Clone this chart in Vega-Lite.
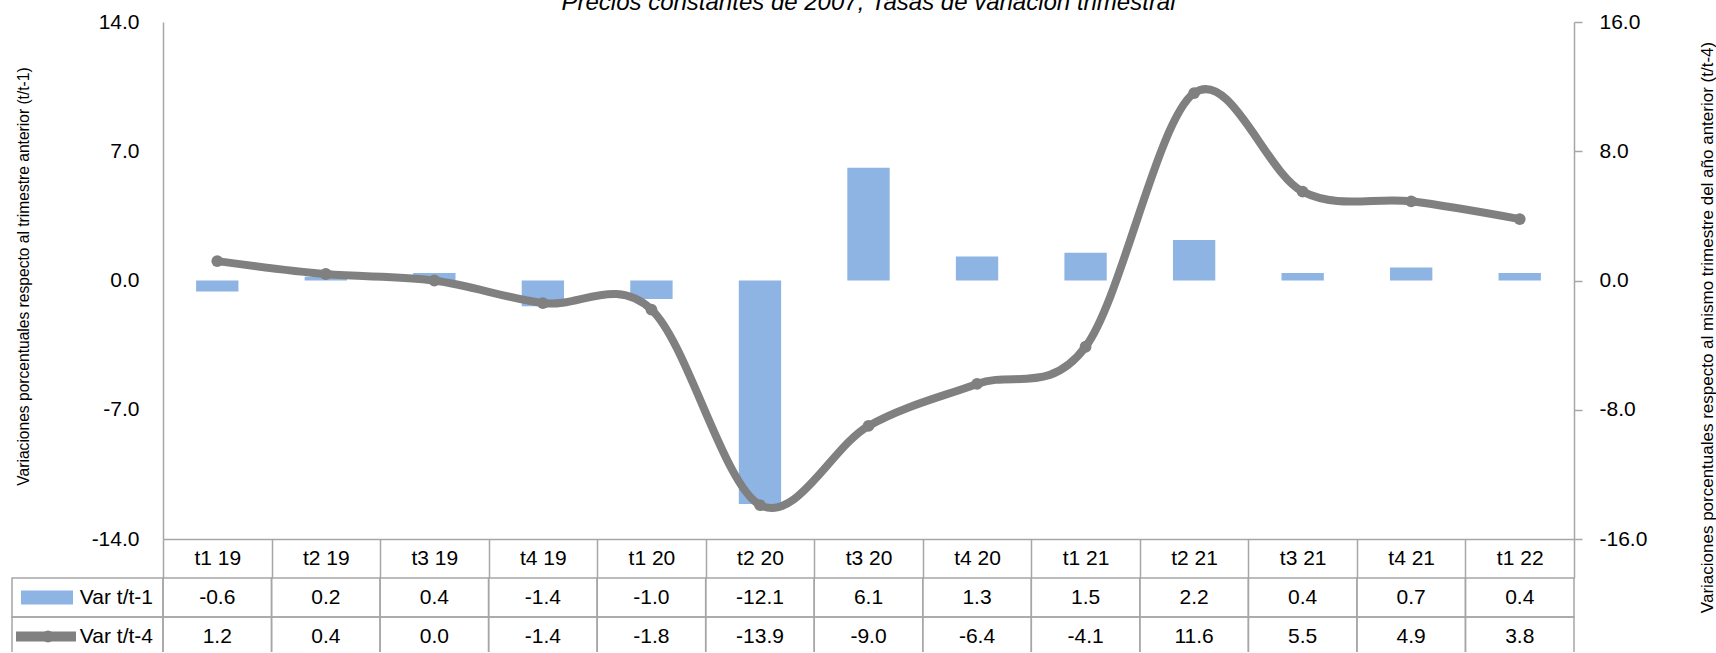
{
  "$schema": "https://vega.github.io/schema/vega-lite/v6.json",
  "padding": {"left": 11, "top": -9, "right": 2, "bottom": -5},
  "bounds": "flush",
  "spacing": 39,
  "config": {
    "font": "Liberation Sans",
    "view": {"stroke": null},
    "locale": {"number": {"decimal": ".", "thousands": ",", "grouping": [3], "currency": ["", ""], "minus": "-"}},
    "axis": {"labelFont": "Liberation Sans", "titleFont": "Liberation Sans", "labelColor": "#000000", "titleColor": "#000000", "titleFontWeight": "normal"},
    "text": {"font": "Liberation Sans"}
  },
  "datasets": {
    "d": [
      {"q": "t1 19", "Var t/t-1": -0.6, "Var t/t-4": 1.2},
      {"q": "t2 19", "Var t/t-1": 0.2, "Var t/t-4": 0.4},
      {"q": "t3 19", "Var t/t-1": 0.4, "Var t/t-4": 0.0},
      {"q": "t4 19", "Var t/t-1": -1.4, "Var t/t-4": -1.4},
      {"q": "t1 20", "Var t/t-1": -1.0, "Var t/t-4": -1.8},
      {"q": "t2 20", "Var t/t-1": -12.1, "Var t/t-4": -13.9},
      {"q": "t3 20", "Var t/t-1": 6.1, "Var t/t-4": -9.0},
      {"q": "t4 20", "Var t/t-1": 1.3, "Var t/t-4": -6.4},
      {"q": "t1 21", "Var t/t-1": 1.5, "Var t/t-4": -4.1},
      {"q": "t2 21", "Var t/t-1": 2.2, "Var t/t-4": 11.6},
      {"q": "t3 21", "Var t/t-1": 0.4, "Var t/t-4": 5.5},
      {"q": "t4 21", "Var t/t-1": 0.7, "Var t/t-4": 4.9},
      {"q": "t1 22", "Var t/t-1": 0.4, "Var t/t-4": 3.8}
    ]
  },
  "resolve": {"scale": {"x": "independent"}},
  "vconcat": [
    {
      "width": 1411,
      "height": 517,
      "title": {"text": "Precios constantes de 2007, Tasas de variación trimestral", "font": "Liberation Sans", "fontSize": 24, "fontStyle": "italic", "fontWeight": "normal", "color": "#000000", "baseline": "alphabetic", "offset": 14, "dy": 37, "anchor": "middle"},
      "data": {"name": "d"},
      "encoding": {
        "x": {"field": "q", "type": "ordinal", "sort": null, "scale": {"paddingInner": 0, "paddingOuter": 0},
          "axis": {"title": null, "labelAngle": 0, "labelFontSize": 21, "labelPadding": -20, "labelBaseline": "middle", "tickBand": "extent", "tickSize": 39, "tickColor": "#A6A6A6", "tickWidth": 1.5, "domainColor": "#A6A6A6", "domainWidth": 1.5, "labelOverlap": false}}
      },
      "layer": [
        {
          "layer": [
            {"mark": {"type": "bar", "color": "#8DB4E2", "width": {"band": 0.39}},
             "encoding": {"y": {"field": "Var t/t-1", "type": "quantitative", "scale": {"domain": [-14, 14], "nice": false, "zero": false},
               "axis": {"orient": "left", "values": [-14, -7, 0, 7, 14], "format": ".1f", "title": "Variaciones porcentuales respecto al trimestre anterior (t/t-1)", "titleFontSize": 15.6, "titleX": -140, "titleY": 254, "titleAngle": -90, "titleBaseline": "middle", "titleAlign": "center", "ticks": false, "labelPadding": 24, "labelFontSize": 21, "domainColor": "#A6A6A6", "domainWidth": 1.5, "grid": false}}}},
            {"mark": {"type": "rule", "color": "#8C8C8C", "strokeWidth": 2},
             "encoding": {"y": {"datum": 0, "type": "quantitative"}}}
          ]
        },
        {
          "layer": [
            {"mark": {"type": "line", "color": "#808080", "strokeWidth": 8, "interpolate": "cardinal"},
             "encoding": {"y": {"field": "Var t/t-4", "type": "quantitative", "scale": {"domain": [-16, 16], "nice": false, "zero": false},
               "axis": {"orient": "right", "values": [-16, -8, 0, 8, 16], "format": ".1f", "title": "Variaciones porcentuales respecto al mismo trimestre del año anterior (t/t-4)", "titleFontSize": 17, "titleX": 133, "titleY": 305, "titleAngle": -90, "titleBaseline": "middle", "titleAlign": "center", "tickSize": 8, "tickColor": "#A6A6A6", "tickWidth": 1.5, "labelPadding": 17, "labelFontSize": 21, "domainColor": "#A6A6A6", "domainWidth": 1.5, "grid": false}}}},
            {"mark": {"type": "point", "filled": true, "color": "#808080", "size": 140, "opacity": 1},
             "encoding": {"y": {"field": "Var t/t-4", "type": "quantitative"}}}
          ]
        }
      ],
      "resolve": {"scale": {"y": "independent"}}
    },
    {
      "width": 1411,
      "height": 78,
      "data": {"name": "d"},
      "transform": [{"fold": ["Var t/t-1", "Var t/t-4"], "as": ["serie", "valor"]}],
      "layer": [
        {"mark": {"type": "rect", "fillOpacity": 0, "stroke": "#A6A6A6", "strokeWidth": 1.5},
         "encoding": {
           "x": {"field": "q", "type": "ordinal", "sort": null, "scale": {"paddingInner": 0, "paddingOuter": 0}, "axis": null},
           "y": {"field": "serie", "type": "nominal", "sort": null, "scale": {"paddingInner": 0, "paddingOuter": 0}, "axis": null}}},
        {"transform": [{"filter": "datum.q === 't1 19'"}],
         "mark": {"type": "rect", "fillOpacity": 0, "stroke": "#A6A6A6", "strokeWidth": 1.5, "width": 151, "xOffset": -129.75},
         "encoding": {
           "x": {"field": "q", "type": "ordinal", "sort": null},
           "y": {"field": "serie", "type": "nominal", "sort": null}}},
        {"mark": {"type": "text", "fontSize": 21, "color": "#000000"},
         "encoding": {
           "x": {"field": "q", "type": "ordinal", "sort": null},
           "y": {"field": "serie", "type": "nominal", "sort": null},
           "text": {"field": "valor", "type": "quantitative", "format": ".1f"}}},
        {"transform": [{"filter": "datum.q === 't1 19'"}],
         "mark": {"type": "text", "fontSize": 21, "color": "#000000", "align": "right", "dx": -10},
         "encoding": {
           "x": {"field": "q", "type": "ordinal", "sort": null, "bandPosition": 0},
           "y": {"field": "serie", "type": "nominal", "sort": null},
           "text": {"field": "serie", "type": "nominal"}}},
        {"transform": [{"filter": "datum.q === 't1 19' && datum.serie === 'Var t/t-1'"}],
         "mark": {"type": "point", "shape": "M-1,-0.27H1V0.27H-1Z", "filled": true, "opacity": 1, "color": "#8DB4E2", "size": 2704, "xOffset": -116},
         "encoding": {
           "x": {"field": "q", "type": "ordinal", "sort": null, "bandPosition": 0},
           "y": {"field": "serie", "type": "nominal", "sort": null}}},
        {"transform": [{"filter": "datum.q === 't1 19' && datum.serie === 'Var t/t-4'"}],
         "mark": {"type": "point", "shape": "M-1,-0.167H1V0.167H-1Z", "filled": true, "opacity": 1, "color": "#808080", "size": 3600, "xOffset": -117},
         "encoding": {
           "x": {"field": "q", "type": "ordinal", "sort": null, "bandPosition": 0},
           "y": {"field": "serie", "type": "nominal", "sort": null}}},
        {"transform": [{"filter": "datum.q === 't1 19' && datum.serie === 'Var t/t-4'"}],
         "mark": {"type": "point", "shape": "circle", "filled": true, "opacity": 1, "color": "#808080", "size": 140, "xOffset": -115},
         "encoding": {
           "x": {"field": "q", "type": "ordinal", "sort": null, "bandPosition": 0},
           "y": {"field": "serie", "type": "nominal", "sort": null}}}
      ]
    }
  ]
}
